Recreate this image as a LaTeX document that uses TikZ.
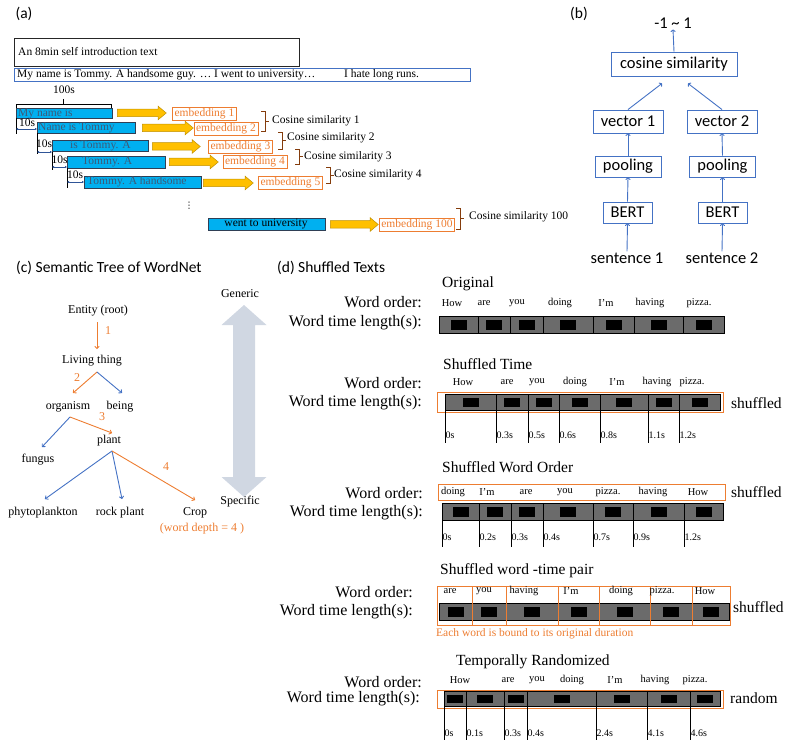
\documentclass[tikz,border=0pt]{standalone}
\usepackage{fontspec}
\setmainfont{Liberation Serif}
\newfontfamily\calib{Carlito}
\newfontfamily\djv{DejaVu Sans}
\usetikzlibrary{arrows.meta,shapes.arrows,calc}
\definecolor{cyanbar}{HTML}{00B0F0}
\definecolor{barline}{HTML}{2F3F55}
\definecolor{bartxt}{HTML}{3C5A78}
\definecolor{gold}{HTML}{FFC000}
\definecolor{goldline}{HTML}{C09000}
\definecolor{orng}{HTML}{ED7D31}
\definecolor{brwn}{HTML}{843C0C}
\definecolor{msblue}{HTML}{4472C4}
\definecolor{dkblue}{HTML}{2F5597}
\definecolor{bigarr}{HTML}{D0D7E2}
\definecolor{bargrey}{HTML}{6B6B6B}
\newcommand\fsz[1]{\fontsize{#1}{#1}\selectfont}
\newcommand\wordbar[3]{%
  \foreach \xa/\xb in {#3}{%
    \draw[black, line width=0.8pt, fill=bargrey] (\xa,#1) rectangle (\xb,#2);
    \fill[black] ({(\xa+\xb)/2-8},{#1+3.5}) rectangle ({(\xa+\xb)/2+8},{#2-3.5});
  }}
\newcommand\tickrow[4]{%
  \foreach \xx/\tl [count=\ii] in {#4}{%
    \draw[black, line width=0.7pt] (\xx,#1) -- (\xx,#2);
    \node[tk, anchor=west] (tk\ii-#3) at (\xx,#3) {\tl};
  }}
\begin{document}
\begin{tikzpicture}[x=1pt,y=-1pt,
  every node/.style={inner sep=1pt},
  fa/.style={font=\fsz{11.5}},
  abar/.style={draw=barline, line width=0.8pt, fill=cyanbar, anchor=north west, inner sep=0pt},
  btxt/.style={font=\fsz{11.5}, text=bartxt, anchor=west, inner sep=0pt},
  emb/.style={draw=orng, text=orng, line width=0.7pt, font=\fsz{11.5}, inner xsep=2pt, inner ysep=1.2pt},
  yarr/.style={single arrow, draw=goldline, fill=gold, line width=0.5pt, inner sep=2pt, text height=3pt, text depth=0pt, single arrow head extend=3pt, single arrow tip angle=80, minimum height=#1, anchor=tail},
  brk/.style={brwn, line width=0.8pt},
  meas/.style={dkblue, line width=0.9pt, {Latex[length=2pt,width=2.5pt]}-{Latex[length=2pt,width=2.5pt]}},
  bbox/.style={draw=msblue, line width=0.9pt, font=\calib\fsz{16.5}, inner sep=0pt},
  barr/.style={msblue, line width=0.9pt, -{To[length=2.5pt,width=5pt]}},
  tree/.style={font=\fsz{12}, inner sep=0.5pt},
  oarr/.style={orng, line width=0.9pt, -{To[length=3pt,width=5pt]}},
  larr/.style={msblue, line width=0.9pt, -{To[length=3pt,width=5pt]}},
  lbl/.style={font=\fsz{16}, anchor=east, inner sep=0pt},
  ttl/.style={font=\fsz{15.5}, anchor=west, inner sep=0pt},
  wd/.style={font=\fsz{10.5}, inner sep=0pt},
  tk/.style={font=\fsz{10}, inner sep=0.5pt},
  obox/.style={draw=orng, line width=0.9pt},
  side/.style={font=\fsz{15.5}, anchor=west, inner sep=0pt},
  plabel/.style={font=\calib\fsz{15.5}, inner sep=0pt}
]
\useasboundingbox (0,0) rectangle (790,746);

% ================= (a) =================
\node[plabel] (la) at (24,14) {(a)};
\node[draw=black!85, line width=0.8pt, anchor=north west, minimum width=285pt, minimum height=28pt, inner sep=0pt] (intro) at (14,38) {};
\node[fa, anchor=west, inner sep=0pt] (introtxt) at (18,52) {An 8min self introduction text};
\node[draw=msblue, line width=0.8pt, anchor=north west, minimum width=456pt, minimum height=13.5pt, inner sep=0pt] (full) at (14,68) {};
\node[fa, anchor=west, inner sep=0pt] (fulltxt) at (17,75) {My name is Tommy. A handsome guy. … I went to university…};
\node[fa, anchor=west, inner sep=0pt] (fulltxt2) at (344,75) {I hate long runs.};

% 100s bracket
\node[fa] (hund) at (64,90) {100s};
\draw[black, line width=0.8pt] (16,110) -- (16,104) -- (111,104) -- (111,110);
\draw[black, line width=0.8pt] (63,99) -- (63,104);

% bars
\node[abar, minimum width=96pt, minimum height=10.5pt] (bar1) at (16,108) {};
\node[btxt] (bt1) at (18,113.5) {My name is};
\node[abar, minimum width=98pt, minimum height=11pt] (bar2) at (37,122) {};
\node[btxt] (bt2) at (38,127.5) {Name is Tommy};
\node[abar, minimum width=96pt, minimum height=11.5pt] (bar3) at (52,140) {};
\node[btxt] (bt3) at (70,145.5) {is Tommy. A};
\node[abar, minimum width=98pt, minimum height=12pt] (bar4) at (67,156) {};
\node[btxt] (bt4) at (82,162) {Tommy. A};
\node[abar, minimum width=117pt, minimum height=12pt] (bar5) at (84,176) {};
\node[btxt] (bt5) at (87,182) {Tommy. A handsome};
\node[abar, minimum width=117pt, minimum height=12pt] (bar6) at (208,218) {};
\node[font=\fsz{11.5}, inner sep=0pt] (bt6) at (266,224) {went to university};

% 10s measures
\draw[black, line width=0.8pt] (16,118) -- (16,134);
\draw[black, line width=0.8pt] (37,133) -- (37,154);
\draw[black, line width=0.8pt] (52,152) -- (52,170);
\draw[black, line width=0.8pt] (67,168) -- (67,188);
\node[fa, inner sep=0pt] (ten1) at (27,123) {10s};
\node[fa, inner sep=0pt] (ten2) at (44,143.5) {10s};
\node[fa, inner sep=0pt] (ten3) at (59.5,160) {10s};
\node[fa, inner sep=0pt] (ten4) at (75,175) {10s};
\draw[meas] (16,129) -- (37,129);
\draw[meas] (37,152) -- (52,152);
\draw[meas] (52,167) -- (67,167);
\draw[meas] (67,182) -- (84,182);

% yellow arrows
\node[yarr=49pt] (ya1) at (117,113) {};
\node[yarr=51pt] (ya2) at (142,128) {};
\node[yarr=48pt] (ya3) at (152,146.5) {};
\node[yarr=49pt] (ya4) at (169,162) {};
\node[yarr=50pt] (ya5) at (203,183) {};
\node[yarr=48pt] (ya6) at (330,224.5) {};

% embeddings
\node[emb] (e1) at (204.5,113.5) {embedding 1};
\node[emb] (e2) at (226,128.5) {embedding 2};
\node[emb] (e3) at (240.5,147) {embedding 3};
\node[emb] (e4) at (255,162) {embedding 4};
\node[emb] (e5) at (290.5,183) {embedding 5};
\node[emb] (e6) at (417,224.5) {embedding 100};

% brackets
\draw[brk] (261,111) -- (265,111) -- (265,131) -- (261,131) (265,121) -- (269,121);
\node[fa, anchor=west, inner sep=0pt] (c1) at (272,121) {Cosine similarity 1};
\draw[brk] (278,132) -- (282,132) -- (282,149) -- (278,149) (282,140.5) -- (286,140.5);
\node[fa, anchor=west, inner sep=0pt] (c2) at (287,137.5) {Cosine similarity 2};
\draw[brk] (295,149) -- (299,149) -- (299,164) -- (295,164) (299,156.5) -- (303,156.5);
\node[fa, anchor=west, inner sep=0pt] (c3) at (304,156.5) {Cosine similarity 3};
\draw[brk] (326,167) -- (330,167) -- (330,183) -- (326,183) (330,175) -- (334,175);
\node[fa, anchor=west, inner sep=0pt] (c4) at (334,174.5) {Cosine similarity 4};
\draw[brk] (456,208) -- (460,208) -- (460,229) -- (456,229) (460,218.5) -- (464,218.5);
\node[fa, anchor=west, inner sep=0pt] (c5) at (469,217) {Cosine similarity 100};

\node[font=\djv\fsz{9}, inner sep=0pt] (vd) at (189,206) {⋮};

% ================= (b) =================
\node[plabel] (lb) at (579,14) {(b)};
\node[font=\calib\fsz{16.5}, inner sep=1pt] (out) at (673,23) {-1 \textasciitilde{} 1};
\node[bbox, minimum width=126pt, minimum height=24pt] (cos) at (674,64) {cosine similarity};
\node[bbox, minimum width=70pt, minimum height=23pt] (v1) at (628,121.5) {vector 1};
\node[bbox, minimum width=70pt, minimum height=23pt] (v2) at (722,121.5) {vector 2};
\node[bbox, minimum width=66pt, minimum height=21pt] (p1) at (628,166.5) {pooling};
\node[bbox, minimum width=66pt, minimum height=21pt] (p2) at (722.5,166.5) {pooling};
\node[bbox, minimum width=49pt, minimum height=21pt] (B1) at (627.5,212.5) {BERT};
\node[bbox, minimum width=49pt, minimum height=21pt] (B2) at (722.5,212.5) {BERT};
\node[font=\calib\fsz{16.5}, inner sep=1pt] (s1) at (627,258) {sentence 1};
\node[font=\calib\fsz{16.5}, inner sep=1pt] (s2) at (722,258) {sentence 2};
\draw[barr] (s1.north) -- (B1.south);
\draw[barr] (s2.north) -- (B2.south);
\draw[barr] (B1.north) -- (p1.south);
\draw[barr] (B2.north) -- (p2.south);
\draw[barr] (p1.north) -- (v1.south);
\draw[barr] (p2.north) -- (v2.south);
\draw[barr] (v1.north) -- ($(cos.south)+(-12,7)$);
\draw[barr] (v2.north) -- ($(cos.south)+(14,7)$);
\draw[barr] (cos.north) -- (out.south);

% ================= (c) =================
\node[plabel, anchor=west] (lc) at (16,268) {(c) Semantic Tree of WordNet};
\node[tree] (ent) at (98,311) {Entity (root)};
\node[tree] (liv) at (92,361) {Living thing};
\node[tree] (org) at (68,407) {organism};
\node[tree] (bei) at (120,407) {being};
\node[tree] (pla) at (109,441) {plant};
\node[tree] (fun) at (38,460) {fungus};
\node[tree] (phy) at (43,513) {phytoplankton};
\node[tree] (roc) at (120,513) {rock plant};
\node[tree] (cro) at (195,513) {Crop};
\node[tree, text=orng] (dep) at (202,529) {(word depth = 4 )};
\draw[oarr] ($(ent)+(-1,11)$) -- ($(liv)+(5,-12)$);
\draw[oarr] ($(liv)+(5,11)$) -- ($(org)+(5,-14)$);
\draw[larr] ($(liv)+(5,11)$) -- ($(bei)+(2,-14)$);
\draw[oarr] ($(org)+(2,10)$) -- ($(pla)+(3,-8)$);
\draw[larr] ($(org)+(2,10)$) -- ($(fun)+(4,-13)$);
\draw[larr] ($(pla)+(3,10)$) -- ($(phy)+(2,-14)$);
\draw[larr] ($(pla)+(3,10)$) -- ($(roc)+(2,-14)$);
\draw[oarr] ($(pla)+(3,10)$) -- ($(cro)+(0,-13)$);
\node[tree, text=orng] (n1) at (108,331) {1};
\node[tree, text=orng] (n2) at (77,378) {2};
\node[tree, text=orng] (n3) at (102,417) {3};
\node[tree, text=orng] (n4) at (166,467) {4};
\fill[bigarr] (244,305) -- (266.5,325) -- (255,325) -- (255,477) -- (266.5,477) -- (244,497) -- (221.5,477) -- (233,477) -- (233,325) -- (221.5,325) -- cycle;
\node[tree] (gen) at (240,294) {Generic};
\node[tree] (spe) at (240,502) {Specific};

% ================= (d) =================
\node[plabel, anchor=west] (ld) at (277,268) {(d) Shuffled Texts};

% Original
\node[ttl] (t1) at (442,284) {Original};
\node[lbl] (wo1) at (422,302) {Word order:};
\node[lbl] (wl1) at (422,323) {Word time length(s):};
\foreach \xx/\ww [count=\ii] in {452/How,484/are,517/you,560/doing,606/I’m,650/having,699/pizza.}
  \node[wd] (wa\ii) at (\xx,303) {\ww};
\wordbar{316}{333}{439/478,478/510,510/543,543/593,593/634,634/683,683/724}

% Shuffled Time
\node[ttl] (t2) at (443,364) {Shuffled Time};
\node[lbl] (wo2) at (422,383) {Word order:};
\node[lbl] (wl2) at (422,403) {Word time length(s):};
\foreach \xx/\ww [count=\ii] in {463/How,507/are,537/you,575/doing,617/I’m,657/having,692/pizza.}
  \node[wd] (wb\ii) at (\xx,382) {\ww};
\draw[obox] (437,392) rectangle (723,412);
\wordbar{394}{410}{445/496,496/528,528/559,559/600,600/648,648/679,679/720}
\tickrow{394}{443}{435}{445/0s,496/0.3s,528/0.5s,559/0.6s,600/0.8s,648/1.1s,679/1.2s}
\node[side] (sh2) at (731,403) {shuffled};

% Shuffled Word Order
\node[ttl] (t3) at (442,467) {Shuffled Word Order};
\node[lbl] (wo3) at (423,493) {Word order:};
\node[lbl] (wl3) at (423,513) {Word time length(s):};
\draw[obox] (438,484) rectangle (725,500);
\foreach \xx/\ww [count=\ii] in {453/doing,487/I’m,526/are,565/you,608/pizza.,653/having,698/How}
  \node[wd] (wc\ii) at (\xx,492) {\ww};
\node[side] (sh3) at (731,492) {shuffled};
\wordbar{503}{520}{442/479,479/511,511/543,543/593,593/633,633/684,684/723}
\tickrow{503}{547}{537}{442/0s,479/0.2s,511/0.3s,543/0.4s,593/0.7s,633/0.9s,684/1.2s}

% Shuffled word-time pair
\node[ttl] (t4) at (440,571) {Shuffled word -time pair};
\node[lbl] (wo4) at (413,592) {Word order:};
\node[lbl] (wl4) at (413,612) {Word time length(s):};
\wordbar{603}{620}{439/472,472/506,506/558,558/599,599/650,650/692,692/729}
\foreach \xa/\xb in {437/472,472/506,506/558,558/599,599/650,650/692,692/730}
  \draw[obox] (\xa,586) rectangle (\xb,625);
\foreach \xx/\ww [count=\ii] in {450/are,484/you,524/having,571/I’m,621/doing,662/pizza.,705/How}
  \node[wd] (wd\ii) at (\xx,591) {\ww};
\node[side] (sh4) at (733,607) {shuffled};
\node[font=\fsz{11.5}, text=orng, anchor=west, inner sep=0pt] (note) at (436,634) {Each word is bound to its original duration};

% Temporally Randomized
\node[ttl] (t5) at (456,662) {Temporally Randomized};
\node[lbl] (wo5) at (422,682) {Word order:};
\node[lbl] (wl5) at (420,699) {Word time length(s):};
\foreach \xx/\ww [count=\ii] in {460/How,508/are,537/you,572/doing,615/I’m,655/having,695/pizza.}
  \node[wd] (we\ii) at (\xx,680) {\ww};
\draw[obox] (437,690) rectangle (723,708);
\wordbar{691}{706}{444/466,466/504,504/527,527/596,596/647,647/690,690/720}
\tickrow{691}{740}{733}{444/0s,466/0.1s,504/0.3s,527/0.4s,596/2.4s,647/4.1s,690/4.6s}
\node[side] (sh5) at (730,698) {random};
\end{tikzpicture}
\end{document}
